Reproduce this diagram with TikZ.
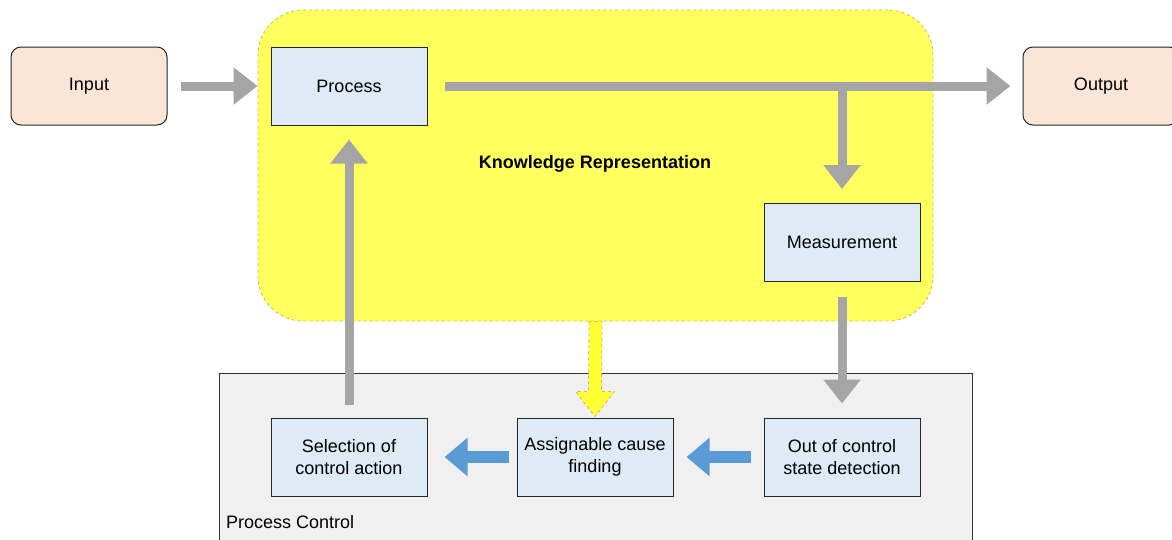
\documentclass[tikz,border=0pt]{standalone}
\usepackage{fontspec}
\setmainfont{Liberation Sans}
\usetikzlibrary{arrows.meta,calc}
\definecolor{boxblue}{HTML}{DEEAF6}
\definecolor{peach}{HTML}{FBE5D6}
\definecolor{kryellow}{HTML}{FFFF5E}
\definecolor{dashc}{HTML}{D6B656}
\definecolor{arrowgray}{HTML}{A5A5A5}
\definecolor{arrowblue}{HTML}{5B9BD5}
\definecolor{pcgray}{HTML}{F0F0F0}
\definecolor{yarrowfill}{HTML}{FFFF33}
\begin{document}
\begin{tikzpicture}[x=1pt,y=-1pt,
  font=\fontsize{18}{22}\selectfont,
  box/.style={draw=black!85, fill=boxblue, line width=1pt, minimum width=156pt, minimum height=78pt, inner sep=0pt, align=center},
  term/.style={box, fill=peach, rounded corners=10pt},
  krbox/.style={draw=dashc, fill=kryellow, dash pattern=on 3pt off 3pt, line width=0.8pt, rounded corners=45pt, minimum width=675pt, minimum height=311pt, inner sep=0pt},
  pcbox/.style={draw=black!80, fill=pcgray, line width=0.8pt, minimum width=753pt, minimum height=180pt, inner sep=0pt},
  garrow/.style={draw=arrowgray, line width=9pt, -{Triangle[width=36pt,length=24pt]}},
  barrow/.style={draw=arrowblue, line width=12pt, -{Triangle[width=37pt,length=23pt]}},
  yarrow/.style={draw=dashc, fill=yarrowfill, dash pattern=on 3pt off 3pt, line width=0.8pt}
]
\useasboundingbox (0,0) rectangle (1172,539);
\fill[white] (0,0) rectangle (1172,539);

\node[pcbox] (pc) at (595.5,463) {};
\node[anchor=west, inner sep=0pt] (pclabel) at (226,522) {Process Control};

\node[krbox] (kr) at (595.5,165.5) {};
\node[font=\fontsize{18}{22}\selectfont\bfseries, inner sep=0pt] (krlabel) at (595,164) {Knowledge Representation};

\node[term] (in) at (89,86) {Input};
\node[term] (out) at (1101,86) {Output};
\node[box] (proc) at (349,86) {Process};
\node[box] (meas) at (842,242.5) {Measurement};
\node[box] (sel) at (349,457) {Selection of\\control action};
\node[box] (as) at (595,457) {Assignable cause\\finding};
\node[box] (ooc) at (842,457) {Out of control\\state detection};

\draw[garrow] ([xshift=13pt]in.east) -- ([xshift=-13pt]proc.west);
\draw[garrow] ([xshift=17pt]proc.east) -- ([xshift=-12pt]out.west);
\draw[garrow] (meas.north |- proc.east) -- ([yshift=14pt]meas.north);
\draw[garrow] ([yshift=-15pt]meas.south) -- ([yshift=14pt]ooc.north);
\draw[garrow] ([yshift=13pt]sel.north) -- ([yshift=-14pt]proc.south);

\draw[barrow] ([xshift=-13pt]ooc.west) -- ([xshift=13pt]as.east);
\draw[barrow] ([xshift=-8pt]as.west) -- ([xshift=17pt]sel.east);

\coordinate (yt) at ($(as.north)+(0,-1)$);
\draw[yarrow] ($(kr.south)+(-6.5,0)$) -- ($(yt)+(-6.5,-25)$) -- ($(yt)+(-19.5,-25)$) -- (yt) -- ($(yt)+(19.5,-25)$) -- ($(yt)+(6.5,-25)$) -- ($(kr.south)+(6.5,0)$) -- cycle;
\end{tikzpicture}
\end{document}
